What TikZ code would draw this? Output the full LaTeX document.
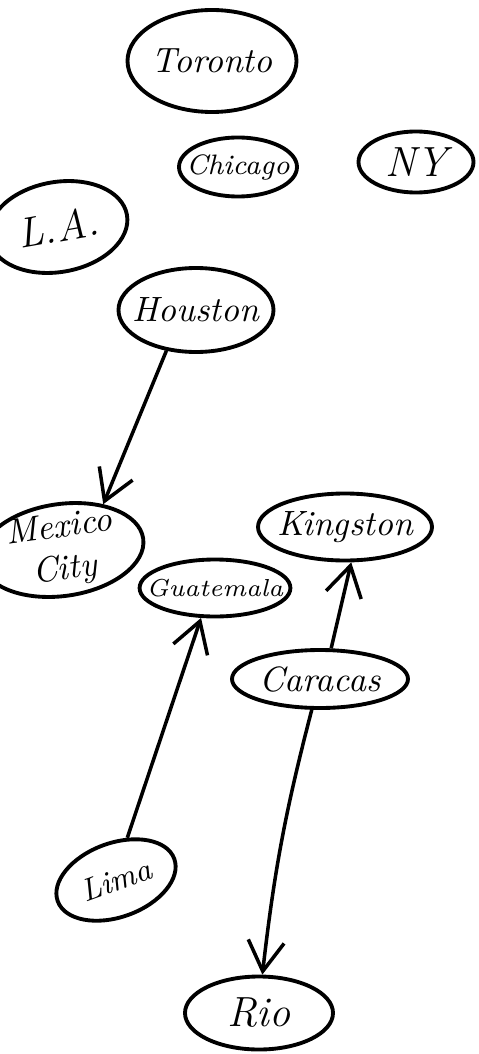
\documentclass[tikz,border=0pt]{standalone}
\usepackage{tikz}
\usetikzlibrary{arrows.meta,shapes.geometric}

\tikzset{
  city/.style={draw,ellipse,line width=1.1pt,inner xsep=-0.15cm,inner ysep=-0.1cm,font=\itshape,align=center},
  link/.style={line width=1pt,-{Straight Barb[length=3mm,width=3.6mm]}}
}

\begin{document}
\begin{tikzpicture}
  \useasboundingbox (0,0) rectangle (4.78,-10.54);
  % cities: name/x/y/width/height/tilt/label
  \foreach \n/\x/\y/\w/\h/\a/\t in {
    toronto/2.12/-0.61/1.69/1.02/0/{Toronto},
    chicago/2.38/-1.67/1.18/0.59/0/{\footnotesize Chicago},
    ny/4.16/-1.62/1.15/0.61/0/{\large NY},
    la/0.58/-2.27/1.40/0.90/10/{\large L.A.},
    houston/1.96/-3.10/1.55/0.84/0/{Houston},
    mexico/0.62/-5.50/1.64/0.92/8/{Mexico\\City},
    guatemala/2.15/-5.88/1.34/0.57/0/{\scriptsize Guatemala},
    kingston/3.45/-5.27/1.74/0.67/0/{Kingston},
    caracas/3.20/-6.79/1.76/0.58/0/{Caracas},
    lima/1.16/-8.80/1.24/0.74/20/{\small Lima},
    rio/2.59/-10.13/1.48/0.73/0/{\large Rio}}{
    \node[city,minimum width=\w cm,minimum height=\h cm,rotate=\a] (\n) at (\x,\y) {\t};
  }
  \draw[link] (houston.234) -- (mexico.40);
  \draw[link] (lima.55) -- (guatemala.245);
  \draw[link] (caracas.70) -- (kingston.280);
  \draw[link] (caracas.255) to[bend right=4] (rio.85);
\end{tikzpicture}
\end{document}
